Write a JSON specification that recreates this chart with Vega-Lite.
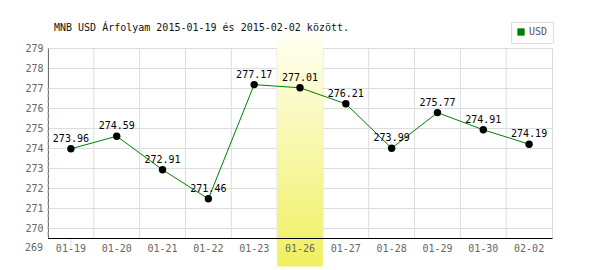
{
  "$schema": "https://vega.github.io/schema/vega-lite/v6.json",
  "width": 504,
  "height": 190,
  "autosize": "none",
  "padding": {"left": 48, "top": 48, "right": 48, "bottom": 32},
  "background": "white",
  "config": {
    "view": {"stroke": "#dddddd", "strokeWidth": 1},
    "font": "DejaVu Sans Mono"
  },
  "title": {
    "text": "MNB USD Árfolyam 2015-01-19 és 2015-02-02 között.",
    "anchor": "start",
    "frame": "group",
    "font": "DejaVu Sans Mono",
    "fontSize": 10,
    "fontWeight": "normal",
    "color": "#111111",
    "baseline": "alphabetic",
    "offset": -19,
    "dx": 6
  },
  "datasets": {
    "rates": [
      {"date": "01-19", "value": 273.96, "series": "USD"},
      {"date": "01-20", "value": 274.59, "series": "USD"},
      {"date": "01-21", "value": 272.91, "series": "USD"},
      {"date": "01-22", "value": 271.46, "series": "USD"},
      {"date": "01-23", "value": 277.17, "series": "USD"},
      {"date": "01-26", "value": 277.01, "series": "USD"},
      {"date": "01-27", "value": 276.21, "series": "USD"},
      {"date": "01-28", "value": 273.99, "series": "USD"},
      {"date": "01-29", "value": 275.77, "series": "USD"},
      {"date": "01-30", "value": 274.91, "series": "USD"},
      {"date": "02-02", "value": 274.19, "series": "USD"}
    ]
  },
  "layer": [
    {
      "data": {"name": "rates"},
      "mark": {"type": "rule", "color": "#dddddd", "strokeWidth": 1},
      "encoding": {
        "x": {"field": "date", "type": "ordinal", "bandPosition": 0}
      }
    },
    {
      "data": {"values": [{"date": "01-19", "v": 269, "label": "269"}]},
      "mark": {"type": "rule", "color": "#dddddd", "strokeWidth": 1},
      "encoding": {
        "y": {"field": "v", "type": "quantitative"}
      }
    },
    {
      "data": {"values": [{"date": "01-19", "v": 269, "label": "269"}]},
      "mark": {"type": "text", "align": "right", "baseline": "middle", "dx": -5, "font": "DejaVu Sans Mono", "fontSize": 10, "color": "#666666"},
      "encoding": {
        "x": {"field": "date", "type": "ordinal", "bandPosition": 0},
        "y": {"field": "v", "type": "quantitative"},
        "text": {"field": "label", "type": "nominal"}
      }
    },
    {
      "data": {"values": [{"date": "01-26", "lo": 268.07, "hi": 279.7}]},
      "mark": {
        "type": "rect",
        "fill": {
          "gradient": "linear",
          "x1": 0, "y1": 0, "x2": 0, "y2": 1,
          "stops": [
            {"offset": 0, "color": "#fffff2"},
            {"offset": 1, "color": "#f0f060"}
          ]
        }
      },
      "encoding": {
        "x": {"field": "date", "type": "ordinal"},
        "y": {"field": "hi", "type": "quantitative"},
        "y2": {"field": "lo"}
      }
    },
    {
      "data": {"values": [{"ref": 277}]},
      "mark": {"type": "rule", "color": "#a8c8a8", "strokeWidth": 1, "strokeDash": [3, 3]},
      "encoding": {
        "y": {"field": "ref", "type": "quantitative"}
      }
    },
    {
      "data": {"name": "rates"},
      "mark": {"type": "line", "strokeWidth": 1},
      "encoding": {
        "x": {"field": "date", "type": "ordinal"},
        "y": {"field": "value", "type": "quantitative"},
        "color": {
          "field": "series",
          "type": "nominal",
          "scale": {"range": ["#008000"]},
          "legend": {
            "title": null,
            "orient": "none",
            "legendX": 463,
            "legendY": -26,
            "padding": 5,
            "strokeColor": "#dddddd",
            "fillColor": "white",
            "symbolType": "square",
            "symbolSize": 40,
            "symbolFillColor": "#008000",
            "symbolStrokeColor": "#224422",
            "symbolStrokeWidth": 1,
            "symbolOffset": 0,
            "labelOffset": 3,
            "labelFont": "DejaVu Sans Mono",
            "labelFontSize": 10,
            "labelColor": "#555555"
          }
        }
      }
    },
    {
      "data": {"name": "rates"},
      "mark": {"type": "point", "filled": true, "color": "black", "size": 55, "opacity": 1},
      "encoding": {
        "x": {"field": "date", "type": "ordinal"},
        "y": {"field": "value", "type": "quantitative"}
      }
    },
    {
      "data": {"name": "rates"},
      "mark": {"type": "text", "dy": -10, "baseline": "middle", "font": "DejaVu Sans Mono", "fontSize": 10, "color": "black"},
      "encoding": {
        "x": {"field": "date", "type": "ordinal"},
        "y": {"field": "value", "type": "quantitative"},
        "text": {"field": "value", "type": "quantitative", "format": ".2f"}
      }
    }
  ],
  "resolve": {"scale": {"x": "shared", "y": "shared"}},
  "encoding": {
    "x": {
      "field": "date",
      "type": "ordinal",
      "scale": {
        "domain": ["01-19", "01-20", "01-21", "01-22", "01-23", "01-26", "01-27", "01-28", "01-29", "01-30", "02-02"],
        "paddingInner": 0,
        "paddingOuter": 0
      },
      "axis": {
        "title": null,
        "labelAngle": 0,
        "ticks": false,
        "grid": false,
        "domainColor": "black",
        "domainWidth": 1,
        "labelFont": "DejaVu Sans Mono",
        "labelFontSize": 10,
        "labelColor": "#666666",
        "labelBaseline": "middle",
        "labelPadding": 10,
        "zindex": 1
      }
    },
    "y": {
      "type": "quantitative",
      "scale": {"domain": [269.5, 279], "nice": false, "zero": false},
      "axis": {
        "title": null,
        "values": [270, 271, 272, 273, 274, 275, 276, 277, 278, 279],
        "ticks": false,
        "grid": true,
        "gridColor": "#dddddd",
        "domainColor": "black",
        "domainWidth": 1,
        "labelFont": "DejaVu Sans Mono",
        "labelFontSize": 10,
        "labelColor": "#666666",
        "labelPadding": 5,
        "format": "d",
        "zindex": 0
      }
    }
  }
}
